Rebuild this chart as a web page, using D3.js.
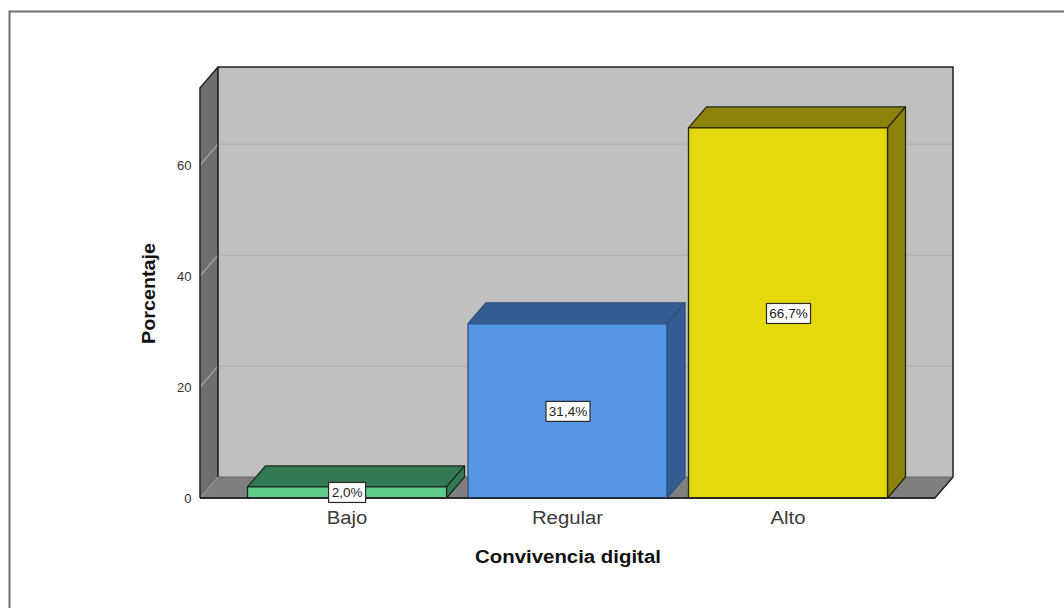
<!DOCTYPE html>
<html><head><meta charset="utf-8">
<script src="https://cdn.jsdelivr.net/npm/d3@7"></script>
<style>html,body{margin:0;padding:0;background:#fff}svg{display:block}text{font-family:"Liberation Sans",Arial,sans-serif}</style>
</head><body><svg id="c" width="1064" height="608"></svg>
<script>
const categories = ["Bajo","Regular","Alto"];
const values = [2.0,31.4,66.7];
const valueLabels = ["2,0%","31,4%","66,7%"];
const frontColors = ["#5ecb8a","#5596e6","#e5d90d"];
const sideColors = ["#337a52","#335d91","#8c840a"];
const strokeColors = ["#1c2a22","#2f5282","#26240a"];
const yTicks = [0,20,40,60];
const yTitle = "Porcentaje", xTitle = "Convivencia digital";

const svg = d3.select("#c");
const dx = 18, dy = -21;
const x = d3.scaleBand().domain(categories).range([200,935]).paddingInner(0.0975).paddingOuter(0.2154);
const y = d3.scaleLinear().domain([0,73.9]).range([498,88]);
const pts = a => a.map(p=>p.join(",")).join(" ");
const x0=x.range()[0], x1=x.range()[1], y0=y(0), yT=y.range()[1];
function label(px,py,str,size,opts={}){
  const t=svg.append("text").attr("transform",`translate(${px},${py})${opts.rot?" rotate(-90)":""} scale(${opts.stretch||1},1)`)
    .attr("text-anchor",opts.anchor||"middle").attr("font-size",size).attr("fill",opts.fill||"#111").text(str);
  if(opts.bold)t.attr("font-weight","bold");
  return t;
}

// frame
svg.append("path").attr("d","M9.5 608V11.5H1064").attr("fill","none").attr("stroke","#6e6e6e").attr("stroke-width",2);

// back wall
svg.append("rect").attr("x",x0+dx).attr("y",yT+dy).attr("width",x1-x0).attr("height",y0-yT).attr("fill","#c0c0c0");
// floor and left wall
svg.append("polygon").attr("points",pts([[x0,y0],[x0+dx,y0+dy],[x1+dx,y0+dy],[x1,y0]])).attr("fill","#7f7f7f");
svg.append("polygon").attr("points",pts([[x0,yT],[x0+dx,yT+dy],[x0+dx,y0+dy],[x0,y0]])).attr("fill","#6f6f6f");
// grid
yTicks.filter(t=>t>0).forEach(t=>{
  svg.append("line").attr("x1",x0+dx).attr("x2",x1+dx).attr("y1",y(t)+dy).attr("y2",y(t)+dy).attr("stroke","#b2b2b2").attr("stroke-width",1.2);
  svg.append("line").attr("x1",x0).attr("x2",x0+dx).attr("y1",y(t)).attr("y2",y(t)+dy).attr("stroke","#a8a8a8").attr("stroke-width",1.2);
});
svg.append("line").attr("x1",x0).attr("x2",x0+dx).attr("y1",y0).attr("y2",y0+dy).attr("stroke","#a0a0a0").attr("stroke-width",1);
// outlines
const ol="#222";
svg.append("path").attr("d",`M${x0+dx} ${yT+dy}V${y0+dy}`).attr("fill","none").attr("stroke",ol).attr("stroke-width",1.6);
svg.append("path").attr("d",`M${x0+dx} ${y0+dy}H${x1+dx}`).attr("fill","none").attr("stroke","#666").attr("stroke-width",1.1);
svg.append("path").attr("d",`M${x0} ${y0}V${yT}L${x0+dx} ${yT+dy}H${x1+dx}V${y0+dy}L${x1} ${y0}H${x0}`).attr("fill","none").attr("stroke",ol).attr("stroke-width",1.5);

// bars
categories.forEach((c,i)=>{
  const l=x(c), r=l+x.bandwidth(), t=y(values[i]), b=y0;
  const g=svg.append("g").attr("stroke",strokeColors[i]).attr("stroke-width",1.3).attr("stroke-linejoin","round");
  g.append("polygon").attr("points",pts([[l,t],[l+dx,t+dy],[r+dx,t+dy],[r,t]])).attr("fill",sideColors[i]);
  g.append("polygon").attr("points",pts([[r,t],[r+dx,t+dy],[r+dx,b+dy],[r,b]])).attr("fill",sideColors[i]);
  g.append("rect").attr("x",l).attr("y",t).attr("width",r-l).attr("height",b-t).attr("fill",frontColors[i]);
});
// base line on top of bars
svg.append("line").attr("x1",x0).attr("x2",x1).attr("y1",y0).attr("y2",y0).attr("stroke",ol).attr("stroke-width",1.5);

// value labels
categories.forEach((c,i)=>{
  const cx=x(c)+x.bandwidth()/2+0.5+(i==0?-0.4:0), cy=(y(values[i])+y0)/2+(i==0?0:0.5);
  const w=valueLabels[i].length>4?44:37, h=20;
  svg.append("rect").attr("x",cx-w/2).attr("y",cy-h/2).attr("width",w).attr("height",h).attr("fill","#fff").attr("stroke","#2a2a2a").attr("stroke-width",1.2);
  label(cx,cy+4.5,valueLabels[i],13,{fill:"#222",stretch:1.04});
});

// y tick labels
yTicks.forEach(t=>label(191.5,y(t)+4.7,t,13,{anchor:"end",fill:"#333"}));
// x labels
categories.forEach(c=>label(x(c)+x.bandwidth()/2,523.5,c,19,{fill:"#3a3a3a",stretch:1.07}));
label(568,562.5,xTitle,18.8,{bold:true,stretch:1.085});
label(155,293.5,yTitle,18.8,{bold:true,rot:true,stretch:1.05});
</script></body></html>
